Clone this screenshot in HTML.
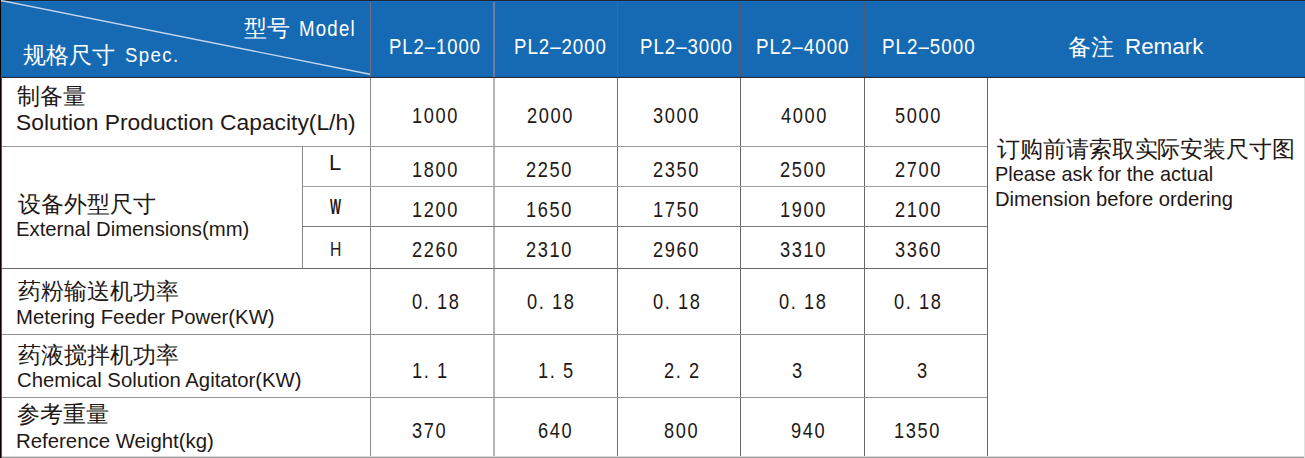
<!DOCTYPE html>
<html><head><meta charset="utf-8"><style>
html,body{margin:0;padding:0;}
body{width:1305px;height:458px;overflow:hidden;position:relative;background:#fff;font-family:"Liberation Sans",sans-serif;}
.r{position:absolute;}
.t{position:absolute;line-height:30px;white-space:pre;transform-origin:0 0;}
</style></head><body>
<div class="r" style="left:0px;top:0px;width:1305px;height:77px;background:#156ab3;"></div>
<div class="r" style="left:0px;top:0px;width:1305px;height:1px;background:#1e2530;"></div>
<div class="r" style="left:0px;top:1px;width:1305px;height:1px;background:#1473c4;"></div>
<div class="r" style="left:0px;top:76px;width:1305px;height:1px;background:#0f5fae;"></div>
<div class="r" style="left:0px;top:77px;width:1305px;height:1px;background:#2a2a30;"></div>
<svg class="r" style="left:0;top:0" width="372" height="78"><line x1="0" y1="0.3" x2="370" y2="74.3" stroke="#c9d5ee" stroke-width="1.4"/></svg>
<div class="r" style="left:370px;top:2px;width:1px;height:75px;background:#6f7080;"></div>
<div class="r" style="left:493px;top:2px;width:2px;height:75px;background:#6f7ba0;"></div>
<div class="r" style="left:617px;top:2px;width:1px;height:75px;background:#5a6278;"></div>
<div class="r" style="left:740px;top:2px;width:1px;height:75px;background:#555868;"></div>
<div class="r" style="left:864px;top:2px;width:1px;height:75px;background:#555868;"></div>
<div class="r" style="left:987px;top:2px;width:1px;height:75px;background:#555868;"></div>
<div class="r" style="left:370px;top:78px;width:1px;height:379px;background:#8a8a8a;"></div>
<div class="r" style="left:493px;top:78px;width:2px;height:379px;background:#b5b5b5;"></div>
<div class="r" style="left:617px;top:78px;width:1px;height:379px;background:#6f6f6f;"></div>
<div class="r" style="left:740px;top:78px;width:1px;height:379px;background:#686868;"></div>
<div class="r" style="left:864px;top:78px;width:1px;height:379px;background:#686868;"></div>
<div class="r" style="left:987px;top:78px;width:1px;height:379px;background:#686868;"></div>
<div class="r" style="left:302px;top:146px;width:1px;height:122px;background:#8a8a8a;"></div>
<div class="r" style="left:0px;top:146px;width:987px;height:1px;background:#999999;"></div>
<div class="r" style="left:302px;top:186px;width:685px;height:1px;background:#a0a0a0;"></div>
<div class="r" style="left:302px;top:226px;width:685px;height:1px;background:#807a78;"></div>
<div class="r" style="left:0px;top:268px;width:987px;height:1px;background:#6e6866;"></div>
<div class="r" style="left:0px;top:334px;width:987px;height:1px;background:#909090;"></div>
<div class="r" style="left:0px;top:397px;width:987px;height:1px;background:#959595;"></div>
<div class="r" style="left:0px;top:457px;width:1305px;height:1px;background:#9a9a9a;"></div>
<div class="r" style="left:0px;top:456px;width:1305px;height:1px;background:#dcdcdc;"></div>
<div class="r" style="left:0px;top:0px;width:1px;height:458px;background:#0a0000;"></div>
<div class="r" style="left:1px;top:2px;width:1px;height:456px;background:#5a5050;"></div>
<div class="r" style="left:1304px;top:78px;width:1px;height:380px;background:#e0e0e0;"></div>
<div class="t" style="left:244px;top:14.3px;font-size:22.5px;color:#ffffff">型号</div>
<div class="t" style="left:299px;top:13.7px;font-size:22.5px;color:#ffffff;transform:scale(0.8281,1);letter-spacing:1.5px">Model</div>
<div class="t" style="left:22.9px;top:41.15px;font-size:22.5px;color:#ffffff">规格尺寸</div>
<div class="t" style="left:125px;top:40.4px;font-size:20.3px;color:#ffffff;transform:scale(0.9182,1);letter-spacing:1.5px">Spec.</div>
<div class="t" style="left:388.8px;top:31.2px;font-size:22.8px;color:#ffffff;transform:scale(0.8091,1);letter-spacing:1.2px">PL2–1000</div>
<div class="t" style="left:513.9px;top:31.2px;font-size:22.8px;color:#ffffff;transform:scale(0.8182,1);letter-spacing:1.2px">PL2–2000</div>
<div class="t" style="left:640.3px;top:31.2px;font-size:22.8px;color:#ffffff;transform:scale(0.8182,1);letter-spacing:1.2px">PL2–3000</div>
<div class="t" style="left:755.6px;top:31.2px;font-size:22.8px;color:#ffffff;transform:scale(0.8236,1);letter-spacing:1.2px">PL2–4000</div>
<div class="t" style="left:882px;top:31.2px;font-size:22.8px;color:#ffffff;transform:scale(0.8245,1);letter-spacing:1.2px">PL2–5000</div>
<div class="t" style="left:1068.3px;top:33.1px;font-size:22.5px;color:#ffffff">备注</div>
<div class="t" style="left:1124.9px;top:32.1px;font-size:22.5px;color:#ffffff;transform:scale(0.9948,1)">Remark</div>
<div class="t" style="left:17px;top:82.0px;font-size:22.5px;color:#231815">制备量</div>
<div class="t" style="left:16px;top:108px;font-size:22.5px;color:#231815;transform:scale(1.0135,1)">Solution Production Capacity(L/h)</div>
<div class="t" style="left:17.6px;top:189.7px;font-size:22.5px;color:#231815">设备外型尺寸</div>
<div class="t" style="left:16px;top:213.8px;font-size:20.3px;color:#231815">External Dimensions(mm)</div>
<div class="t" style="left:17.6px;top:277.35px;font-size:22.5px;color:#231815">药粉输送机功率</div>
<div class="t" style="left:15.5px;top:301.9px;font-size:20.3px;color:#231815;transform:scale(1.002,1)">Metering Feeder Power(KW)</div>
<div class="t" style="left:17.6px;top:340.9px;font-size:22.5px;color:#231815">药液搅拌机功率</div>
<div class="t" style="left:16.5px;top:365.4px;font-size:20.3px;color:#231815;transform:scale(1.0018,1)">Chemical Solution Agitator(KW)</div>
<div class="t" style="left:16.5px;top:400.15px;font-size:22.5px;color:#231815">参考重量</div>
<div class="t" style="left:15.5px;top:425.5px;font-size:20.3px;color:#231815;transform:scale(1.0046,1)">Reference Weight(kg)</div>
<div class="t" style="left:329px;top:148.2px;font-size:21.5px;color:#231815;transform:scale(1.0222,1)">L</div>
<div class="t" style="left:330.2px;top:191.6px;font-size:21.5px;color:#231815;transform:scale(0.54,1);font-weight:bold">W</div>
<div class="t" style="left:330px;top:233.8px;font-size:21px;color:#231815;transform:scale(0.75,1)">H</div>
<div class="t" style="left:997px;top:135.05px;font-size:22.5px;color:#231815;letter-spacing:-0.083px">订购前请索取实际安装尺寸图</div>
<div class="t" style="left:995.1px;top:159.1px;font-size:19.8px;color:#231815;transform:scale(1.007,1)">Please ask for the actual</div>
<div class="t" style="left:995.1px;top:183.6px;font-size:19.8px;color:#231815;transform:scale(1.0204,1)">Dimension before ordering</div>
<div class="t" style="left:412px;top:101.25px;font-size:21.7px;color:#231815;transform:scale(0.84,1);letter-spacing:1.9px">1000</div>
<div class="t" style="left:527px;top:101.25px;font-size:21.7px;color:#231815;transform:scale(0.84,1);letter-spacing:1.9px">2000</div>
<div class="t" style="left:653px;top:101.25px;font-size:21.7px;color:#231815;transform:scale(0.84,1);letter-spacing:1.9px">3000</div>
<div class="t" style="left:781px;top:101.25px;font-size:21.7px;color:#231815;transform:scale(0.84,1);letter-spacing:1.9px">4000</div>
<div class="t" style="left:895px;top:101.25px;font-size:21.7px;color:#231815;transform:scale(0.84,1);letter-spacing:1.9px">5000</div>
<div class="t" style="left:412.2px;top:154.6px;font-size:21.7px;color:#231815;transform:scale(0.84,1);letter-spacing:1.9px">1800</div>
<div class="t" style="left:526.4px;top:154.6px;font-size:21.7px;color:#231815;transform:scale(0.84,1);letter-spacing:1.9px">2250</div>
<div class="t" style="left:652.8px;top:154.6px;font-size:21.7px;color:#231815;transform:scale(0.84,1);letter-spacing:1.9px">2350</div>
<div class="t" style="left:779.8px;top:154.6px;font-size:21.7px;color:#231815;transform:scale(0.84,1);letter-spacing:1.9px">2500</div>
<div class="t" style="left:894.9px;top:154.6px;font-size:21.7px;color:#231815;transform:scale(0.84,1);letter-spacing:1.9px">2700</div>
<div class="t" style="left:412.2px;top:195.15px;font-size:21.7px;color:#231815;transform:scale(0.84,1);letter-spacing:1.9px">1200</div>
<div class="t" style="left:526.4px;top:195.15px;font-size:21.7px;color:#231815;transform:scale(0.84,1);letter-spacing:1.9px">1650</div>
<div class="t" style="left:652.8px;top:195.15px;font-size:21.7px;color:#231815;transform:scale(0.84,1);letter-spacing:1.9px">1750</div>
<div class="t" style="left:779.8px;top:195.15px;font-size:21.7px;color:#231815;transform:scale(0.84,1);letter-spacing:1.9px">1900</div>
<div class="t" style="left:894.9px;top:195.15px;font-size:21.7px;color:#231815;transform:scale(0.84,1);letter-spacing:1.9px">2100</div>
<div class="t" style="left:412.2px;top:235.15px;font-size:21.7px;color:#231815;transform:scale(0.84,1);letter-spacing:1.9px">2260</div>
<div class="t" style="left:526.4px;top:235.15px;font-size:21.7px;color:#231815;transform:scale(0.84,1);letter-spacing:1.9px">2310</div>
<div class="t" style="left:652.8px;top:235.15px;font-size:21.7px;color:#231815;transform:scale(0.84,1);letter-spacing:1.9px">2960</div>
<div class="t" style="left:779.8px;top:235.15px;font-size:21.7px;color:#231815;transform:scale(0.84,1);letter-spacing:1.9px">3310</div>
<div class="t" style="left:894.9px;top:235.15px;font-size:21.7px;color:#231815;transform:scale(0.84,1);letter-spacing:1.9px">3360</div>
<div class="t" style="left:411.7px;top:286.5px;font-size:21.7px;color:#231815;transform:scale(0.84,1);letter-spacing:1.9px">0. 18</div>
<div class="t" style="left:526.7px;top:286.5px;font-size:21.7px;color:#231815;transform:scale(0.84,1);letter-spacing:1.9px">0. 18</div>
<div class="t" style="left:652.6px;top:286.5px;font-size:21.7px;color:#231815;transform:scale(0.84,1);letter-spacing:1.9px">0. 18</div>
<div class="t" style="left:779.3px;top:286.5px;font-size:21.7px;color:#231815;transform:scale(0.84,1);letter-spacing:1.9px">0. 18</div>
<div class="t" style="left:894.2px;top:286.5px;font-size:21.7px;color:#231815;transform:scale(0.84,1);letter-spacing:1.9px">0. 18</div>
<div class="t" style="left:411.7px;top:355.95px;font-size:21.7px;color:#231815;transform:scale(0.84,1);letter-spacing:1.9px">1. 1</div>
<div class="t" style="left:537.6px;top:355.95px;font-size:21.7px;color:#231815;transform:scale(0.84,1);letter-spacing:1.9px">1. 5</div>
<div class="t" style="left:663.9px;top:355.95px;font-size:21.7px;color:#231815;transform:scale(0.84,1);letter-spacing:1.9px">2. 2</div>
<div class="t" style="left:791.5px;top:355.95px;font-size:21.7px;color:#231815;transform:scale(0.84,1);letter-spacing:1.9px">3</div>
<div class="t" style="left:917.4px;top:355.95px;font-size:21.7px;color:#231815;transform:scale(0.84,1);letter-spacing:1.9px">3</div>
<div class="t" style="left:411.7px;top:415.95px;font-size:21.7px;color:#231815;transform:scale(0.84,1);letter-spacing:1.9px">370</div>
<div class="t" style="left:537.6px;top:415.95px;font-size:21.7px;color:#231815;transform:scale(0.84,1);letter-spacing:1.9px">640</div>
<div class="t" style="left:663.9px;top:415.95px;font-size:21.7px;color:#231815;transform:scale(0.84,1);letter-spacing:1.9px">800</div>
<div class="t" style="left:790.7px;top:415.95px;font-size:21.7px;color:#231815;transform:scale(0.84,1);letter-spacing:1.9px">940</div>
<div class="t" style="left:894.2px;top:415.95px;font-size:21.7px;color:#231815;transform:scale(0.84,1);letter-spacing:1.9px">1350</div>
</body></html>
